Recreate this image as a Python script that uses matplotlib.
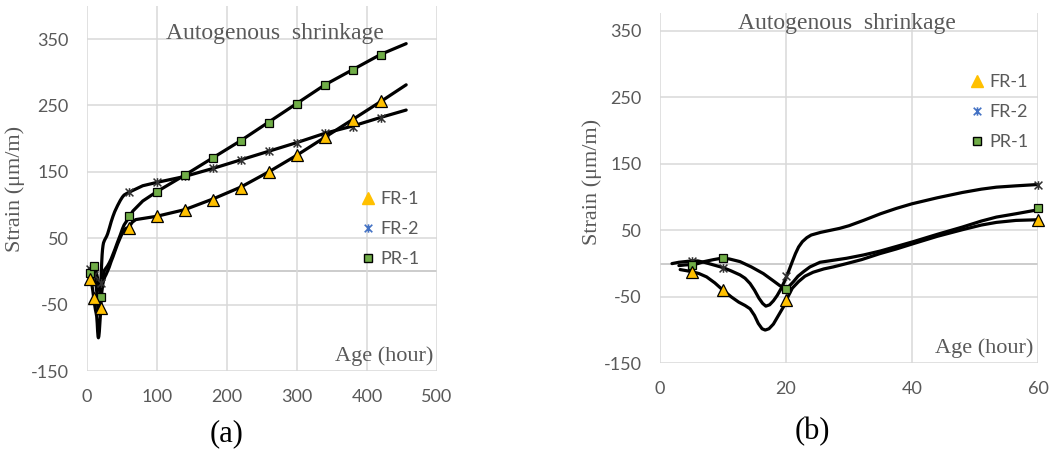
import numpy as np
import matplotlib
matplotlib.use("Agg")
import matplotlib.pyplot as plt
from matplotlib.path import Path
from matplotlib.lines import Line2D

plt.rcParams["axes.unicode_minus"] = False

# ---------------- data ----------------
series_names = ["FR-1", "FR-2", "PR-1"]

# marker (measured) points
mk_age = [5, 10, 20, 60, 100, 140, 180, 220, 260, 300, 340, 380, 420]
fr1_mk = [-12, -40, -55, 65, 83, 93, 108, 126, 149, 175, 202, 228, 256]
fr2_mk = [4, -6, -18, 119, 134, 143, 155, 168, 181, 194, 208, 218, 231]
pr1_mk = [-2, 8, -38, 84, 119, 145, 171, 196, 224, 252, 280, 303, 326]

# continuous (smoothed) curves
fr1_line_age = [3.2, 5, 6.2, 7.4, 8.7, 10, 11.3, 12.5, 13.5, 14.3, 15, 15.6, 16.2, 16.7, 17.3,
                18, 18.8, 19.6, 20.3, 21, 22, 23, 24.3, 26, 27.5, 29.6, 32, 34.9, 37.5, 40.2,
                44, 48, 51, 53.4, 56.5, 60, 65, 70, 100, 140, 180, 220, 260, 300, 340, 380,
                420, 456]
fr1_line = [-9, -12, -15, -20, -29, -40, -50, -58, -63, -68, -78, -90, -98, -100, -98,
            -91, -78, -65, -50, -37, -27, -19, -13, -8, -5, 0, 6, 15, 22, 30,
            41, 51, 58, 62, 65, 66, 74, 78, 83, 93, 109, 127, 150, 175, 202, 229,
            256, 281]

fr2_line_age = [1.9, 3, 4, 5, 6, 7, 8.5, 10, 11.3, 12.7, 13.5, 14.3, 15, 15.7, 16.3, 16.8,
                17.4, 18, 18.6, 19.2, 19.8, 20.4, 21, 21.5, 22, 22.6, 23.3, 24, 25.5, 27,
                28.5, 30, 32.3, 35, 37.5, 40, 44, 48, 51, 53.4, 56.5, 60, 80, 100, 140, 180,
                220, 260, 300, 340, 380, 420, 456]
fr2_line = [0, 2, 3, 4, 4, 2, -2, -6, -11, -17, -22, -30, -40, -52, -60, -64,
            -62, -56, -48, -38, -26, -12, 3, 15, 25, 33, 39, 43, 47, 50,
            53, 57, 65, 75, 83, 90, 99, 107, 112, 115, 117, 119, 129, 134, 143, 155,
            168, 181, 194, 208, 219, 232, 243]

pr1_line_age = [3, 4, 5, 6, 7, 8.5, 9.7, 11, 12.7, 14.5, 16.4, 18, 19, 19.8, 20.5, 21.2,
                21.9, 22.8, 23.8, 25.4, 27.5, 29.6, 32.3, 35, 40.2, 44, 48, 51, 53.4, 56.5,
                60, 66, 80, 100, 140, 180, 220, 260, 300, 340, 380, 420, 456]
pr1_line = [-3, -2, -1.5, 0, 3, 6, 8, 7, 3, -5, -15, -26, -33, -37, -34, -27,
            -19, -12, -5, 2, 5, 8, 13, 19, 33, 44, 55, 64, 70, 75,
            81, 91, 106, 120, 145, 171, 197, 225, 253, 281, 304, 327, 343]

y_ticks = [-150, -50, 50, 150, 250, 350]
xa_ticks = [0, 100, 200, 300, 400, 500]
xb_ticks = [0, 20, 40, 60]

# ---------------- style ----------------
GRAY_TXT = "#595959"
GRID = "#D9D9D9"
TRI_FACE = "#FFC000"
SQ_FACE = "#70AD47"
STAR_LEG = "#4472C4"
STAR_PLT = "#303030"
SERIF = ["Liberation Serif", "DejaVu Serif"]
SANS = ["Lato", "DejaVu Sans"]

star = Path([(-1, -1), (1, 1), (-1, 1), (1, -1), (0, -1.1), (0, 1.1)],
            [Path.MOVETO, Path.LINETO, Path.MOVETO, Path.LINETO, Path.MOVETO, Path.LINETO])

W, H = 1049, 450
fig = plt.figure(figsize=(W / 100, H / 100), dpi=100)


def px_axes(l, r, t, b):
    return fig.add_axes([l / W, 1 - b / H, (r - l) / W, (b - t) / H])


ax_a = px_axes(86.7, 437.0, 5.8, 371.0)
ax_b = px_axes(660.0, 1038.0, 12.7, 363.3)


def setup(ax, xlim, ylim, xticks):
    ax.set_xlim(*xlim)
    ax.set_ylim(*ylim)
    ax.set_xticks(xticks)
    ax.set_yticks(y_ticks)
    for s in ax.spines.values():
        s.set_visible(False)
    ax.grid(True, color=GRID, linewidth=1.1, zorder=0)
    ax.set_axisbelow(True)
    ax.axhline(0, color="#BFBFBF", linewidth=1.1, zorder=0.5)
    ax.tick_params(length=0, labelsize=13, labelcolor=GRAY_TXT, pad=13)
    for lab in ax.get_xticklabels() + ax.get_yticklabels():
        lab.set_family(SANS)


def draw(ax, xmax):
    lw = 2.3
    kw = dict(color="black", lw=lw, solid_joinstyle="round", solid_capstyle="round",
              zorder=2)
    ax.plot(fr1_line_age, fr1_line, **kw)
    ax.plot(fr2_line_age, fr2_line, **kw)
    ax.plot(pr1_line_age, pr1_line, **kw)
    age = np.array(mk_age)
    m = age <= xmax
    ax.plot(age[m], np.array(fr2_mk)[m], ls="none", marker=star, ms=6.2, mew=1.1,
            mec=STAR_PLT, zorder=3, clip_on=False)
    ax.plot(age[m], np.array(pr1_mk)[m], ls="none", marker="s", ms=6.3, mfc=SQ_FACE,
            mec="black", mew=0.9, zorder=3, clip_on=False)
    ax.plot(age[m], np.array(fr1_mk)[m], ls="none", marker="^", ms=8.5, mfc=TRI_FACE,
            mec="black", mew=0.9, zorder=3, clip_on=False)


setup(ax_a, (0, 500), (-150, 400), xa_ticks)
setup(ax_b, (0, 60), (-150, 377.5), xb_ticks)
draw(ax_a, 500)
draw(ax_b, 60)

# text
for ax, tx, ty, ax_x, ax_y, lx, ly in [
        (ax_a, 0.5375, 0.925, 0.9886, 0.041, 15, 189),
        (ax_b, 0.495, 0.968, 0.987, 0.044, 592, 182)]:
    ax.text(tx, ty, "Autogenous  shrinkage", transform=ax.transAxes, ha="center",
            va="center", fontsize=17, color=GRAY_TXT, family=SERIF)
    ax.text(ax_x, ax_y, "Age (hour)", transform=ax.transAxes, ha="right", va="center",
            fontsize=16, color=GRAY_TXT, family=SERIF)
    fig.text(lx / W, 1 - ly / H, "Strain (μm/m)", rotation=90, ha="center",
             va="center", fontsize=16, color=GRAY_TXT, family=SERIF)

fig.text(227 / W, 1 - 434 / H, "(a)", ha="center", va="center", fontsize=22,
         color="black", family=SERIF)
fig.text(812 / W, 1 - 432 / H, "(b)", ha="center", va="center", fontsize=22,
         color="black", family=SERIF)

# legends
handles = [
    Line2D([], [], ls="none", marker="^", ms=9, mfc=TRI_FACE, mec=TRI_FACE),
    Line2D([], [], ls="none", marker=star, ms=6, mew=1.2, mec=STAR_LEG),
    Line2D([], [], ls="none", marker="s", ms=6, mfc=SQ_FACE, mec="black", mew=1.0),
]
for ax, (lxp, lyp) in [(ax_a, (360.8, 191)), (ax_b, (969.8, 74))]:
    leg = ax.legend(handles, series_names, loc="upper left",
                    bbox_to_anchor=(lxp / W, 1 - lyp / H), bbox_transform=fig.transFigure,
                    frameon=False, handlelength=0.8, handletextpad=0.3,
                    labelspacing=0.78, borderpad=0, borderaxespad=0,
                    prop={"family": SANS, "size": 13})
    for t in leg.get_texts():
        t.set_color(GRAY_TXT)

fig.savefig("out.png", dpi=100)
